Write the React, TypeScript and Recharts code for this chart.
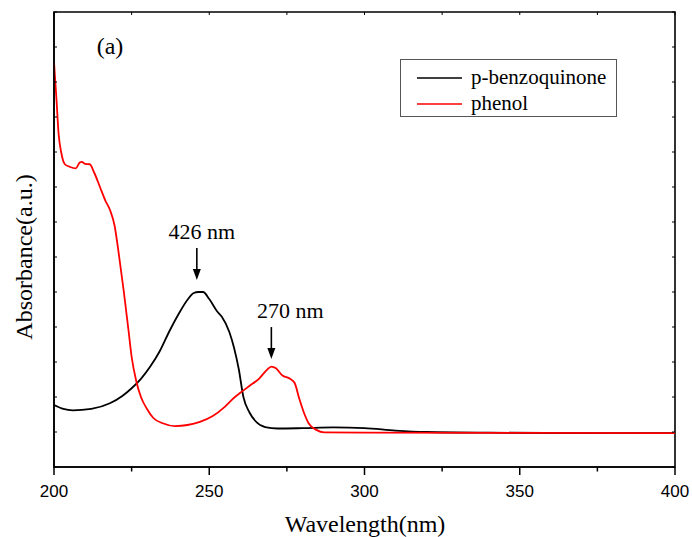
import React from 'react'
import { Label, Legend, Line, LineChart, ReferenceArea, ReferenceDot, XAxis, YAxis } from 'recharts'

// UV-vis spectra, wavelength (nm) vs absorbance (a.u.)
const bqWavelength = [200, 203, 206, 212, 218, 222, 225, 228, 231, 234, 237, 240, 243, 245, 246.5, 248, 250, 252.5, 254, 256.5, 258, 259.5, 261, 263, 265, 268, 272, 280, 290, 300, 310, 320, 340, 370, 400]
const bqAbsorbance = [0.177, 0.166, 0.162, 0.166, 0.182, 0.203, 0.225, 0.252, 0.287, 0.33, 0.385, 0.435, 0.478, 0.497, 0.5, 0.5, 0.48, 0.445, 0.43, 0.385, 0.34, 0.28, 0.2, 0.155, 0.13, 0.114, 0.11, 0.111, 0.113, 0.111, 0.104, 0.1, 0.098, 0.097, 0.097]

const phenolWavelength = [200, 200.8, 201.5, 202.3, 203.5, 205, 207, 208.3, 209, 210, 211.5, 213, 214.8, 216.5, 218, 219.5, 221, 222.5, 224, 225, 226.5, 228, 230, 232, 235, 239, 243, 247, 251, 255, 258, 260, 263, 266, 268.5, 270, 271.5, 273.5, 276, 277.5, 279, 280.5, 282, 284.5, 287, 300, 400]
const phenolAbsorbance = [1.157, 1.05, 0.95, 0.9, 0.865, 0.858, 0.853, 0.87, 0.872, 0.866, 0.865, 0.84, 0.8, 0.762, 0.735, 0.69, 0.6, 0.5, 0.39, 0.315, 0.245, 0.2, 0.165, 0.14, 0.125, 0.117, 0.12, 0.129, 0.145, 0.172, 0.198, 0.212, 0.232, 0.252, 0.277, 0.287, 0.282, 0.262, 0.252, 0.24, 0.195, 0.155, 0.125, 0.106, 0.099, 0.098, 0.097]

const xTicks = [200, 225, 250, 275, 300, 325, 350, 375, 400]
const yTicks = [0, 0.1, 0.2, 0.3, 0.4, 0.5, 0.6, 0.7, 0.8, 0.9, 1.0, 1.1, 1.2, 1.3]
const X_MIN = 200
const X_MAX = 400
const Y_MIN = 0
const Y_MAX = 1.3

const peakNotes = [
  { x: 246, y: 0.5, text: '426 nm', dx: 5, top: 44, tip: 12 },
  { x: 270, y: 0.287, text: '270 nm', dx: 19, top: 39.5, tip: 7.5 },
]

const bqData = bqWavelength.map((w, i) => ({ w, a: bqAbsorbance[i] }))
const phenolData = phenolWavelength.map((w, i) => ({ w, a: phenolAbsorbance[i] }))

const SERIF = "'Liberation Serif', 'Times New Roman', serif"
const SANS = "'Liberation Sans', Arial, sans-serif"
const AXIS_LINE = { stroke: '#000', strokeWidth: 1.6 }

// ticks are drawn by hand so majors/minors and inward marks can differ per side
const BottomTick = ({ x, y, payload }: any) => {
  const major = payload.value % 50 === 0
  return (
    <g>
      <line x1={x} y1={y} x2={x} y2={y + (major ? 8 : 4.5)} stroke="#000" strokeWidth={1.5} />
      {major && (
        <text x={x} y={y + 30} textAnchor="middle" fontFamily={SANS} fontSize={17} fill="#000">
          {payload.value}
        </text>
      )}
    </g>
  )
}

const LeftTick = ({ x, y }: any) => <line x1={x} y1={y} x2={x + 3} y2={y} stroke="#000" strokeWidth={1} />

// small inward marks on the top and right frame edges
const TopMark = ({ cx, cy }: any) => <line x1={cx} y1={cy} x2={cx} y2={cy + 3} stroke="#000" strokeWidth={1} />
const RightMark = ({ cx, cy }: any) => <line x1={cx} y1={cy} x2={cx - 3} y2={cy} stroke="#000" strokeWidth={1} />

const PeakArrow = ({ cx, cy, note }: any) => {
  const top = cy - note.top
  const tip = cy - note.tip
  return (
    <g>
      <text x={cx + note.dx} y={top - 9} textAnchor="middle" fontFamily={SERIF} fontSize={22} fill="#000">
        {note.text}
      </text>
      <line x1={cx} y1={top} x2={cx} y2={tip - 8} stroke="#000" strokeWidth={1.6} />
      <polygon points={`${cx - 4},${tip - 11} ${cx + 4},${tip - 11} ${cx},${tip}`} fill="#000" />
    </g>
  )
}

const LegendBox = ({ payload }: any) => (
  <svg width={217} height={58} style={{ display: 'block' }}>
    <rect x={0.5} y={0.5} width={216} height={57} fill="#fff" stroke="#555" strokeWidth={1} />
    {(payload || []).map((item: any, i: number) => (
      <g key={item.value}>
        <line x1={17} x2={62} y1={19 + i * 26} y2={19 + i * 26} stroke={item.color} strokeWidth={1.6} />
        <text x={71} y={25 + i * 26} fontFamily={SERIF} fontSize={21} fill="#000">
          {item.value}
        </text>
      </g>
    ))}
  </svg>
)

export default function App() {
  return (
    <div style={{ position: 'absolute', left: 0, top: 0, width: 692, height: 537, background: '#fff' }}>
      <LineChart width={692} height={537} margin={{ top: 12, right: 17, bottom: 40, left: 24 }}>
        <XAxis
          dataKey="w"
          type="number"
          domain={[X_MIN, X_MAX]}
          ticks={xTicks}
          interval={0}
          height={30}
          tickSize={0}
          tickMargin={0}
          tickLine={false}
          tick={<BottomTick />}
          axisLine={AXIS_LINE}
          allowDataOverflow
        >
          <Label
            content={() => (
              <text x={365} y={532} textAnchor="middle" fontFamily={SERIF} fontSize={24} fill="#000">
                Wavelength(nm)
              </text>
            )}
          />
        </XAxis>
        <YAxis
          type="number"
          domain={[Y_MIN, Y_MAX]}
          ticks={yTicks}
          interval={0}
          width={30}
          tickSize={0}
          tickMargin={0}
          tickLine={false}
          tick={<LeftTick />}
          axisLine={AXIS_LINE}
          allowDataOverflow
        >
          <Label
            content={() => (
              <text
                x={32}
                y={257}
                transform="rotate(-90 32 257)"
                textAnchor="middle"
                fontFamily={SERIF}
                fontSize={24}
                fill="#000"
              >
                Absorbance(a.u.)
              </text>
            )}
          />
        </YAxis>
        <ReferenceArea
          x1={X_MIN}
          x2={X_MAX}
          y1={Y_MIN}
          y2={Y_MAX}
          fill="none"
          fillOpacity={0}
          stroke="#000"
          strokeWidth={1.6}
          ifOverflow="visible"
        />
        {xTicks.map((t) => (
          <ReferenceDot key={`top-${t}`} x={t} y={Y_MAX} r={0} ifOverflow="visible" shape={<TopMark />} />
        ))}
        {yTicks.map((t) => (
          <ReferenceDot key={`right-${t}`} x={X_MAX} y={t} r={0} ifOverflow="visible" shape={<RightMark />} />
        ))}
        <Legend
          layout="vertical"
          align="center"
          verticalAlign="middle"
          content={<LegendBox />}
          wrapperStyle={{ left: 400, top: 59, width: 217, height: 58 }}
        />
        <Line
          data={bqData}
          dataKey="a"
          name="p-benzoquinone"
          type="monotone"
          stroke="#000"
          strokeWidth={1.8}
          dot={false}
          isAnimationActive={false}
        />
        <Line
          data={phenolData}
          dataKey="a"
          name="phenol"
          type="monotone"
          stroke="#ff0000"
          strokeWidth={1.8}
          dot={false}
          isAnimationActive={false}
        />
        {peakNotes.map((note) => (
          <ReferenceDot
            key={note.text}
            x={note.x}
            y={note.y}
            r={0}
            ifOverflow="visible"
            shape={(p: any) => <PeakArrow cx={p.cx} cy={p.cy} note={note} />}
          />
        ))}
      </LineChart>
      <svg width={692} height={537} style={{ position: 'absolute', left: 0, top: 0, pointerEvents: 'none' }}>
        <text x={110} y={54} textAnchor="middle" fontFamily={SERIF} fontSize={24} fill="#000">
          (a)
        </text>
      </svg>
    </div>
  )
}
